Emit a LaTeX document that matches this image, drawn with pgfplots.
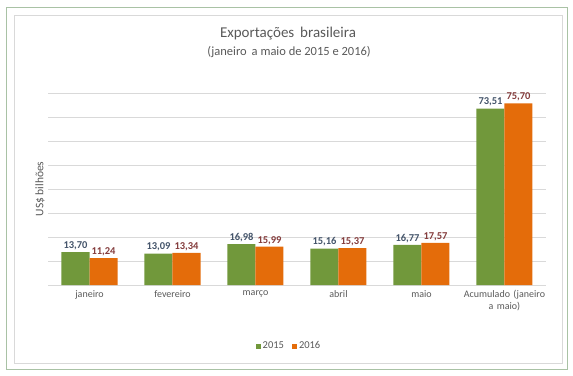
\documentclass[border=0pt]{standalone}
\usepackage{fontspec}
\setmainfont{Carlito}
\usepackage{pgfplots}
\pgfplotsset{compat=1.18}
\definecolor{cgreen}{HTML}{71983B}
\definecolor{corange}{HTML}{E46C0A}
\definecolor{lblA}{HTML}{44546A}
\definecolor{lblB}{HTML}{843C3C}
\definecolor{txt}{HTML}{595959}
\definecolor{gridc}{HTML}{D9D9D9}
\definecolor{outerc}{HTML}{A9C2A5}
\begin{document}
\begin{tikzpicture}[x=1pt,y=1pt]
\path[use as bounding box] (0,0) rectangle (573,375);
\draw[outerc, line width=0.8pt] (6,368) rectangle (567,6);
\draw[gridc, line width=0.8pt] (14,360) rectangle (562,12);
\node[txt, font=\fontsize{15}{17}\selectfont] at (288,341) {Exportações\, brasileira};
\node[txt, font=\fontsize{12.5}{14}\selectfont] at (289,323) {(janeiro\, a maio de 2015 e 2016)};
\begin{axis}[
  at={(48pt,90pt)}, anchor=south west,
  scale only axis, width=498pt, height=192pt,
  ybar=0pt, bar width=28pt,
  xmin=-0.5, xmax=5.5, ymin=0, ymax=80,
  ytick={0,10,...,80}, yticklabels={},
  ymajorgrids, grid style={gridc, line width=0.8pt},
  axis line style={draw=none},
  major tick length=0pt,
  xtick={0,1,2,3,4,5},
  xticklabels={janeiro,fevereiro,março,abril,maio,{Acumulado (janeiro\\a maio)}},
  xticklabel style={txt, font=\fontsize{10}{11.5}\selectfont, align=center, text width=90pt, anchor=north, yshift=-2pt},
  ylabel={US\$ bilhões},
  ylabel style={txt, font=\fontsize{11.5}{13}\selectfont, at={(axis description cs:-0.016,0.5)}, anchor=center},
  nodes near coords,
  /pgf/number format/.cd, use comma, fixed, fixed zerofill, precision=2, assume math mode=true,
  /pgfplots/.cd,
  nodes near coords style={font=\bfseries\fontsize{10.5}{12}\selectfont, inner sep=2pt},
  legend columns=2,
  legend style={draw=none, at={(axis description cs:0.484,-0.318)}, anchor=center, font=\fontsize{10.5}{12}\selectfont, text=txt, /tikz/every even column/.append style={column sep=6pt}},
  legend image code/.code={\fill[#1, draw=none] (0pt,-2.5pt) rectangle (5pt,2.5pt);},
]
\addplot[fill=cgreen, draw=none, every node near coord/.append style={lblA}] coordinates {(0,13.70) (1,13.09) (2,16.98) (3,15.16) (4,16.77) (5,73.51)};
\addplot[fill=corange, draw=none, every node near coord/.append style={lblB}] coordinates {(0,11.24) (1,13.34) (2,15.99) (3,15.37) (4,17.57) (5,75.70)};
\legend{2015,2016}
\end{axis}
\end{tikzpicture}
\end{document}
